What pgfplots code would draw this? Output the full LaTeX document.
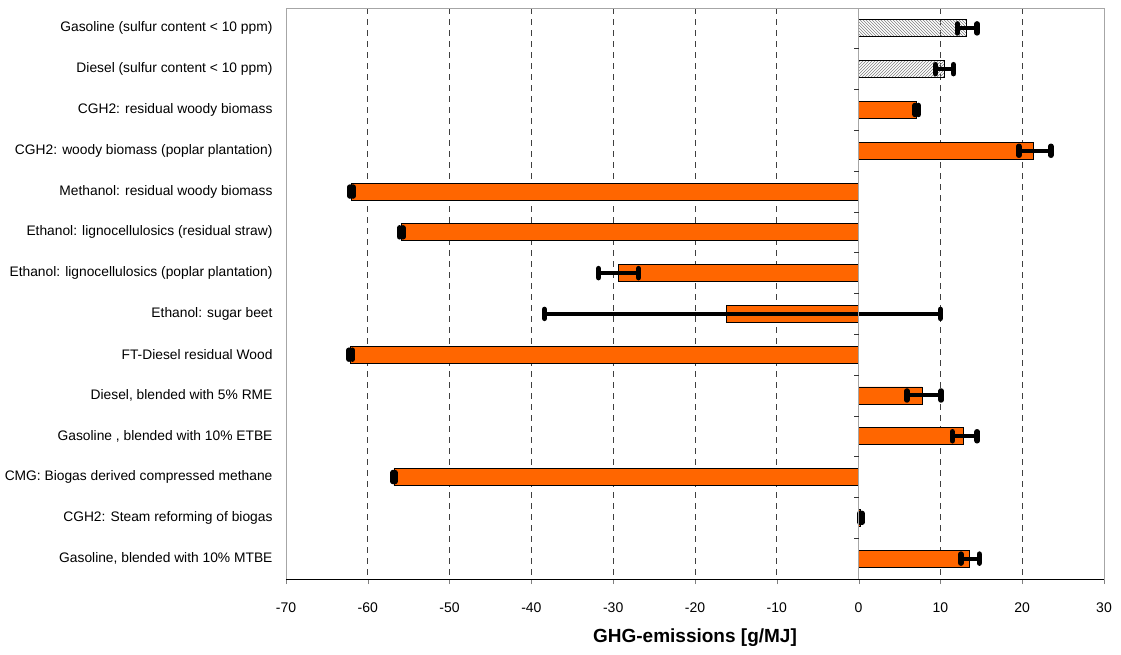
\documentclass[border=0pt]{standalone}
\usepackage{pgfplots}
\pgfplotsset{compat=1.18}
\usepackage{fontspec}
\setmainfont{Liberation Sans}
\usetikzlibrary{patterns}
\definecolor{barorange}{HTML}{FF6600}
\begin{document}
\begin{tikzpicture}
\useasboundingbox (-286pt,-75pt) rectangle (835pt,579pt);
\begin{axis}[
  at={(0,0)}, anchor=south west,
  width=818pt, height=571pt, scale only axis,
  xmin=-70, xmax=30, ymin=-0.5, ymax=13.5,
  y dir=reverse,
  xtick={-70,-60,...,30},
  xtick pos=bottom, tick align=outside,
  major tick length=5pt,
  ytick={0,...,13},
  yticklabels={
    {Gasoline (sulfur content < 10 ppm)},
    {Diesel (sulfur content < 10 ppm)},
    {CGH2: residual woody biomass},
    {CGH2: woody biomass (poplar plantation)},
    {Methanol: residual woody biomass},
    {Ethanol: lignocellulosics (residual straw)},
    {Ethanol: lignocellulosics (poplar plantation)},
    {Ethanol: sugar beet},
    {FT-Diesel residual Wood},
    {Diesel, blended with 5\% RME},
    {Gasoline , blended with 10\% ETBE},
    {CMG: Biogas derived compressed methane},
    {CGH2: Steam reforming of biogas},
    {Gasoline, blended with 10\% MTBE}},
  ytick style={draw=none},
  yticklabel style={font=\fontsize{13.8}{16}\selectfont, xshift=-5pt},
  xticklabel style={font=\fontsize{14}{16}\selectfont, yshift=-15pt},
  /pgf/number format/assume math mode=true,
  xlabel={GHG-emissions [g/MJ]},
  xlabel style={font=\bfseries\fontsize{19}{22}\selectfont, yshift=-9pt},
  axis line style={gray!70, line width=0.8pt},
  xmajorgrids,
  grid style={black!75, dashed, dash pattern=on 6pt off 5pt, line width=0.7pt},
  xbar, bar width=17pt, bar shift=0pt,
  error bars/error bar style={line width=4pt, black},
  error bars/error mark=|,
  error bars/error mark options={line width=5.5pt, line cap=round, mark size=4.5pt, black},
]
% hatched reference fuels
\addplot[draw=black, line width=0.9pt, pattern=north west lines, pattern color=gray,
  error bars/.cd, x dir=both, x explicit]
  table[x=x, y=y, x error plus=ep, x error minus=em] {
  y x ep em
  0 13.2 1.3 1.1
};
\addplot[draw=black, line width=0.9pt, pattern=north east lines, pattern color=gray,
  error bars/.cd, x dir=both, x explicit]
  table[x=x, y=y, x error plus=ep, x error minus=em] {
  y x ep em
  1 10.55 1.05 1.15
};
\addplot[draw=black, line width=0.9pt, fill=barorange,
  error bars/.cd, x dir=both, x explicit]
  table[x=x, y=y, x error plus=ep, x error minus=em] {
  y x ep em
  2 7.1 0.2 0.2
  3 21.4 2.1 1.8
  4 -62.0 0.2 0.2
  5 -55.9 0.2 0.2
  6 -29.3 2.4 2.5
  7 -16.2 26.2 22.2
  8 -62.1 0.2 0.2
  9 7.75 2.35 1.85
  10 12.8 1.7 1.35
  11 -56.8 0.1 0.1
  12 0.25 0.15 0.1
  13 13.6 1.15 1.1
};
% zero axis with category ticks
\draw[gray!70, line width=0.8pt] (axis cs:0,-0.5) -- (axis cs:0,13.5);
\pgfplotsinvokeforeach{0,...,13}{
  \draw[black!80, line width=0.7pt] (axis cs:0,#1+0.5) -- ([xshift=-5pt]axis cs:0,#1+0.5);
}
\draw[black, line width=0.9pt] (rel axis cs:0,0) -- (rel axis cs:1,0);
\end{axis}
\end{tikzpicture}
\end{document}
